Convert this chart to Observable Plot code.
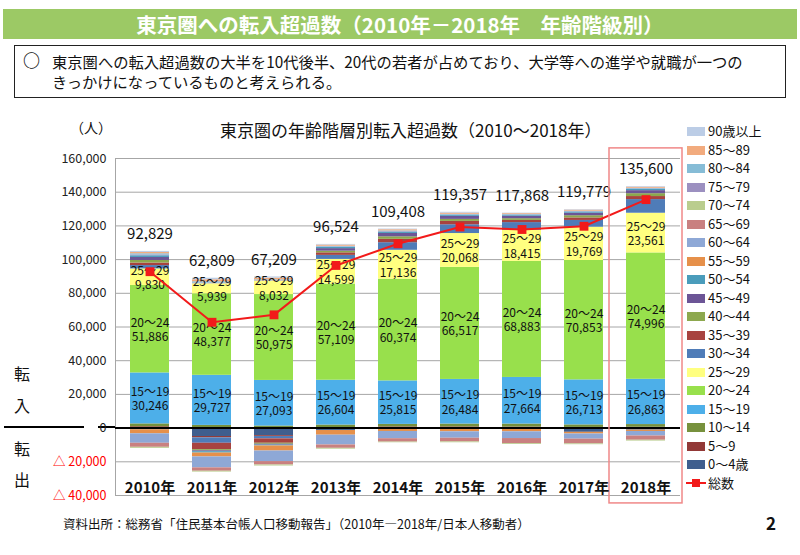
<!DOCTYPE html>
<html><head><meta charset="utf-8">
<script src="https://cdn.jsdelivr.net/npm/d3@7"></script>
<script src="https://cdn.jsdelivr.net/npm/@observablehq/plot@0.6"></script>
<style>
body{margin:0;background:#fff;font-family:"Noto Sans CJK JP","Noto Sans",sans-serif;color:#111;}
#page{position:relative;width:800px;height:555px;overflow:hidden;background:#fff;}
.abs{position:absolute;white-space:nowrap;}
#titlebar{left:3px;top:9px;width:794px;height:30px;background:#9CC965;color:#fff;font-weight:bold;font-size:20.5px;line-height:30px;text-align:center;}
#note{left:14px;top:45px;width:770px;height:51px;border:1px solid #222;font-size:15.3px;line-height:20px;}
#chart{left:0;top:140px;}
#legend{left:686px;top:0;}
.lg{position:absolute;left:0;height:16px;font-size:13px;line-height:16px;}
.sw{position:absolute;left:1px;top:4px;width:18px;height:9px;}
.lt{position:absolute;left:22px;top:0;}
</style></head><body><div id="page">
<div id="titlebar" class="abs">東京圏への転入超過数（2010年－2018年　年齢階級別）</div>
<div id="note" class="abs"><div style="position:absolute;left:8px;top:4px;font-size:17px;font-weight:bold;">○</div><div style="position:absolute;left:37px;top:5px;">東京圏への転入超過数の大半を10代後半、20代の若者が占めており、大学等への進学や就職が一つの<br>きっかけになっているものと考えられる。</div></div>
<div class="abs" style="left:70px;top:117px;font-size:14px;">（人）</div>
<div class="abs" style="left:220px;top:117px;font-size:17px;">東京圏の年齢階層別転入超過数（2010〜2018年）</div>
<div class="abs" style="left:14px;top:361px;font-size:16px;">転</div>
<div class="abs" style="left:14px;top:393px;font-size:16px;">入</div>
<div class="abs" style="left:14px;top:436px;font-size:16px;">転</div>
<div class="abs" style="left:14px;top:467px;font-size:16px;">出</div>
<div class="abs" style="left:4px;top:426px;width:80px;height:2px;background:#000;"></div>
<div class="abs" style="left:98px;top:426px;width:18px;height:2px;background:#000;"></div>
<div id="chart" class="abs"></div>
<div id="legend" class="abs"></div>
<div class="abs" style="left:63px;top:514px;font-size:12.5px;">資料出所：総務省「住民基本台帳人口移動報告」（2010年―2018年/日本人移動者）</div>
<div class="abs" style="left:766px;top:510px;font-size:17px;font-weight:bold;">2</div>
</div>
<script>
const years = ["2010年","2011年","2012年","2013年","2014年","2015年","2016年","2017年","2018年"];
const ageGroups = ["0〜4歳","5〜9","10〜14","15〜19","20〜24","25〜29","30〜34","35〜39","40〜44","45〜49","50〜54","55〜59","60〜64","65〜69","70〜74","75〜79","80〜84","85〜89","90歳以上"];
const ageColors = ["#3F5E8E","#923836","#77913D","#4DAFE9","#98E04C","#FFFF80","#4F7CB8","#A8433F","#8DA84E","#6C5596","#4A9CBB","#E6904A","#8EA8D6","#C98080","#BACD8E","#9C90C0","#86BCD6","#F2AB7E","#BCCDE6"];
const totals = [92829, 62809, 67209, 96524, 109408, 119357, 117868, 119779, 135600];

const a0_4   = [-1000, -5000, -4500, -1400,  -500,  -600,  -700, -2500, -1200];
const a5_9   = [  800,  -800,  -500,   300,   700,   700,   600,   400,   500];
const a10_14 = [ 1700,  1600,  1200,  1500,  1500,  1700,  1800,  1500,  1600];
const a15_19 = [30246, 29727, 27093, 26604, 25815, 26484, 27664, 26713, 26863];
const a20_24 = [51886, 48377, 50975, 57109, 60374, 66517, 68883, 70853, 74996];
const a25_29 = [ 9830,  5939,  8032, 14599, 17136, 20068, 18415, 19769, 23561];
const a30_34 = [ 2000, -3200, -1400,  2400,  4500,  5200,  4600,  4000,  8100];
const a35_39 = [ 1500, -3800, -2600,  1500,  2000,  2000,  1300,  1500,  1800];
const a40_44 = [ 1500,  -700,  -600,  1000,  1500,  1200,  1000,  1300,  1700];
const a45_49 = [ 1800,  -500,  -500,  1500,  2000,  1800,  1500,  1500,  1800];
const a50_54 = [ 1000,  -800,  -500,   700,   800,   700,   600,   700,   900];
const a55_59 = [-2400, -2300, -3000, -2800, -1500, -1600, -1500, -1000,  -800];
const a60_64 = [-5600, -6500, -6300, -5800, -4300, -3800, -4000, -3050, -2700];
const a65_69 = [-2400, -2000, -2000, -2000, -2000, -2200, -3000, -2800, -2500];
const a70_74 = [ -600,  -500,  -600,  -500,  -400,  -500,  -500,  -500,  -500];
const a75_79 = [  500,   400,   300,   300,   300,   200,   200,   200,   200];
const a80_84 = [  700,   800,   400,   400,   400,   300,   200,   300,   300];
const a85_89 = [  800,  1200,  1000,   700,   700,   700,   500,   600,   600];
const a90p   = [  600,   900,   700,   400,   400,   500,   300,   300,   400];
const labelledAges = ["15〜19","20〜24","25〜29"];
const yTicks = [-40000,-20000,0,20000,40000,60000,80000,100000,120000,140000,160000];
const yDomain = [-40000, 160000];

const series = [a0_4,a5_9,a10_14,a15_19,a20_24,a25_29,a30_34,a35_39,a40_44,a45_49,a50_54,a55_59,a60_64,a65_69,a70_74,a75_79,a80_84,a85_89,a90p];
const fmt = d3.format(",");
const rows = [];
years.forEach((yr, i) => ageGroups.forEach((ag, j) => rows.push({year: yr, age: ag, value: series[j][i]})));
const totalRows = years.map((yr, i) => ({
  year: yr, total: totals[i],
  top: d3.sum(series, s => Math.max(0, s[i]))
}));

const chart = Plot.plot({
  width: 690, height: 375,
  marginLeft: 115, marginRight: 10, marginTop: 18, marginBottom: 20,
  style: {fontFamily: '"Noto Sans CJK JP","Noto Sans",sans-serif', color: "#111", overflow: "visible"},
  x: {domain: years, paddingInner: 0.365, paddingOuter: 0.167, axis: null},
  y: {domain: yDomain, axis: null},
  color: {domain: ageGroups, range: ageColors},
  marks: [
    Plot.gridY(yTicks, {stroke: "#A6A6A6", strokeOpacity: 1}),
    Plot.frame({anchor: "left", stroke: "#A6A6A6"}),
    Plot.barY(rows, {x: "year", y: "value", fill: "age"}),
    Plot.ruleY([0], {stroke: "#000", strokeWidth: 2}),
    Plot.text(rows, Plot.stackY({x: "year", y: "value",
      text: d => labelledAges.includes(d.age) ? d.age + "\n" + fmt(d.value) : "",
      fontSize: 12, lineHeight: 1.2, fill: "#111"})),
    Plot.line(totalRows, {x: "year", y: "total", stroke: "#F21A1A", strokeWidth: 2}),
    Plot.dot(totalRows, {x: "year", y: "total", symbol: "square", fill: "#F21A1A", r: 5}),
    Plot.text(totalRows, {x: "year", y: "top", dy: -17, text: d => fmt(d.total), fontSize: 15, fill: "#111"}),
    Plot.barY([{year: years[8]}], {x: "year", y1: yDomain[0] - 4700, y2: yDomain[1] + 6000,
      fill: "none", stroke: "#F08888", strokeWidth: 1.5, insetLeft: -17, insetRight: -17}),
    Plot.axisX({tickSize: 0, tickPadding: 0, dy: -13, fontSize: 15, fontWeight: "bold", fill: "#111", label: null}),
    Plot.axisY(yTicks.filter(t => t >= 0), {tickSize: 0, tickPadding: 9, tickFormat: fmt, fontSize: 12.5, fill: "#222", label: null}),
    Plot.axisY(yTicks.filter(t => t < 0), {tickSize: 0, tickPadding: 9, tickFormat: d => "△ " + fmt(-d), fontSize: 12.5, fill: "#FF0000", label: null})
  ]
});
document.getElementById("chart").appendChild(chart);

// legend
const lg = document.getElementById("legend");
const order = ageGroups.map((a, j) => j).reverse();
const step = 18.5;
order.forEach((j, k) => {
  const it = document.createElement("div");
  it.className = "lg";
  it.style.top = (123 + k * step) + "px";
  it.innerHTML = `<div class="sw" style="background:${ageColors[j]}"></div><div class="lt">${ageGroups[j]}</div>`;
  lg.appendChild(it);
});
const tl = document.createElement("div");
tl.className = "lg";
tl.style.top = (123 + 19 * step) + "px";
tl.innerHTML = `<div style="position:absolute;left:0;top:7px;width:20px;height:2px;background:#F21A1A"></div><div style="position:absolute;left:6px;top:4px;width:8px;height:8px;background:#F21A1A"></div><div class="lt">総数</div>`;
lg.appendChild(tl);
</script>
</body></html>
